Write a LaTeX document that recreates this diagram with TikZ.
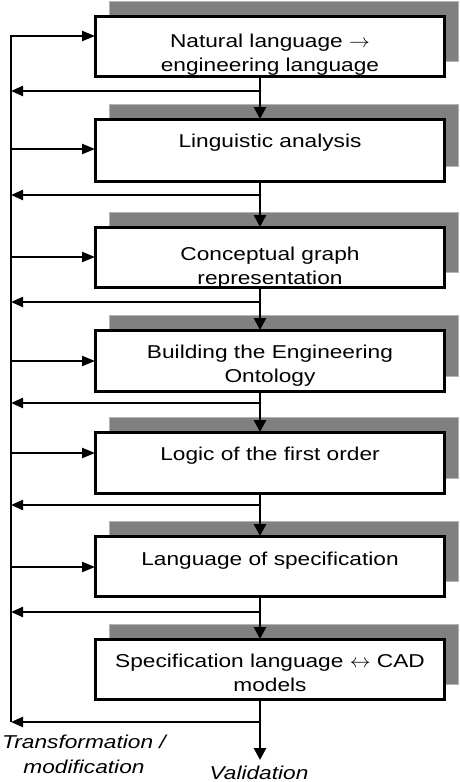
\documentclass[tikz,border=0pt]{standalone}
\usepackage{graphicx}
\usepackage{fontspec}
\setmainfont{Liberation Sans}[FakeStretch=1.22]
\usetikzlibrary{arrows.meta,shadows}
\definecolor{shadowgray}{HTML}{808080}
\definecolor{shadowedge}{HTML}{B4B4B4}
\newcommand\twolines[2]{\begin{tabular}[t]{@{}c@{}}#1\\#2\end{tabular}}
\newcommand\myrarrow{\scalebox{1.2}[1.1]{$\rightarrow$}}
\newcommand\mylrarrow{\scalebox{1.2}[1.1]{$\leftrightarrow$}}
\begin{document}
\begin{tikzpicture}[x=1pt,y=-1pt,
  box/.style={draw, line width=3pt, fill=white, anchor=north west, inner sep=0pt, outer sep=0pt,
    minimum width=349pt, minimum height=#1,
    drop shadow={shadow xshift=14pt, shadow yshift=14.5pt, fill=shadowgray, draw=shadowedge, line width=1pt, opacity=1}},
  boxtext/.style={anchor=base, inner sep=0pt, font=\fontsize{18.6}{24}\selectfont},
  note/.style={anchor=base, inner sep=0pt, font=\fontsize{18.6}{25}\selectfont\itshape},
  fline/.style={line width=2.2pt},
  inarr/.style={fline, -{Triangle[length=13pt,width=10pt]}},
  retarr/.style={fline, -{Triangle[length=12pt,width=10pt]}},
  downarr/.style={line width=2.8pt, -{Triangle[length=12pt,width=12pt]}}
]
\useasboundingbox (0,0) rectangle (460,782);

% boxes
\node[box=60] (b1) at (95,16) {};
\node[box=62] (b2) at (95,119) {};
\node[box=60] (b3) at (95,227) {};
\node[box=61] (b4) at (95,330) {};
\node[box=61] (b5) at (95,432) {};
\node[box=60] (b6) at (95,536) {};
\node[box=60] (b7) at (95,639) {};

% texts
\node[boxtext] (t1) at (270,47) {\twolines{Natural language \myrarrow}{engineering language}};
\node[boxtext] (t2) at (270,147) {Linguistic analysis};
\node[boxtext] (t3) at (270,260) {\twolines{Conceptual graph}{representation}};
\node[boxtext] (t4) at (270,358) {\twolines{Building the Engineering}{Ontology}};
\node[boxtext] (t5) at (270,460) {Logic of the first order};
\node[boxtext] (t6) at (270,565) {Language of specification};
\node[boxtext] (t7) at (270,667) {\twolines{Specification language \mylrarrow\ CAD}{models}};

\node[note] (tm) at (84,748) {\twolines{Transformation /}{modification}};
\node[note] (val) at (259,779) {Validation};

% spine and left line coordinates
\coordinate (spine) at (260,0);
\coordinate (i1) at (11,36);
\coordinate (i2) at (11,149);
\coordinate (i3) at (11,257);
\coordinate (i4) at (11,361);
\coordinate (i5) at (11,453);
\coordinate (i6) at (11,567);
\coordinate (l1) at (11,91);
\coordinate (l2) at (11,195);
\coordinate (l3) at (11,302);
\coordinate (l4) at (11,403);
\coordinate (l5) at (11,505);
\coordinate (l6) at (11,612);
\coordinate (l7) at (11,722);
\coordinate (vend) at (260,760);

% left feedback line and input arrows
\draw[inarr, line join=miter] (l7) -- (i1) -- (i1 -| b1.west);
\draw[inarr] (i2) -- (i2 -| b2.west);
\draw[inarr] (i3) -- (i3 -| b3.west);
\draw[inarr] (i4) -- (i4 -| b4.west);
\draw[inarr] (i5) -- (i5 -| b5.west);
\draw[inarr] (i6) -- (i6 -| b6.west);

% return arrows
\draw[retarr] (l1 -| spine) -- (l1);
\draw[retarr] (l2 -| spine) -- (l2);
\draw[retarr] (l3 -| spine) -- (l3);
\draw[retarr] (l4 -| spine) -- (l4);
\draw[retarr] (l5 -| spine) -- (l5);
\draw[retarr] (l6 -| spine) -- (l6);
\draw[retarr] (l7 -| spine) -- (l7);

% downward arrows
\draw[downarr] (b1.south -| spine) -- (b2.north -| spine);
\draw[downarr] (b2.south -| spine) -- (b3.north -| spine);
\draw[downarr] (b3.south -| spine) -- (b4.north -| spine);
\draw[downarr] (b4.south -| spine) -- (b5.north -| spine);
\draw[downarr] (b5.south -| spine) -- (b6.north -| spine);
\draw[downarr] (b6.south -| spine) -- (b7.north -| spine);
\draw[downarr] (b7.south -| spine) -- (vend);
\end{tikzpicture}
\end{document}
